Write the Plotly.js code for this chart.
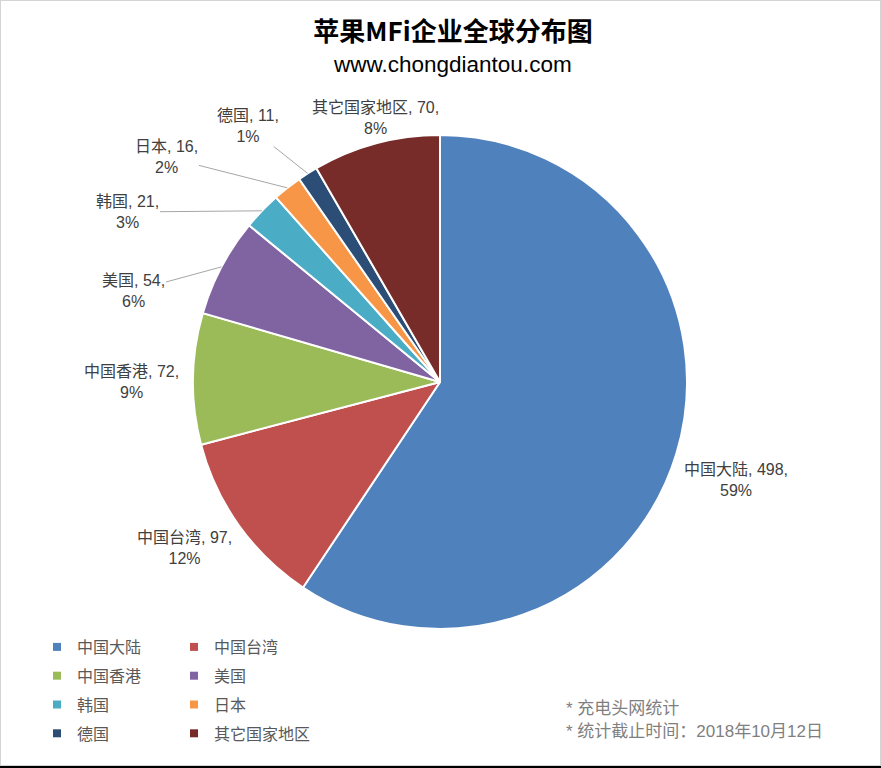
<!DOCTYPE html>
<html>
<head>
<meta charset="utf-8">
<script src="https://cdn.plot.ly/plotly-3.0.1.min.js"></script>
<style>
  html, body { margin: 0; padding: 0; background: #000; }
  #wrap { position: absolute; left: 0; top: 0; width: 879px; height: 764px; border: 1px solid #d4d4d4; background: #fff; }
  #chart { width: 879px; height: 764px; }
</style>
</head>
<body>
<div id="wrap"><div id="chart"></div></div>
<script>
// ---- data ----
const categories = ['中国大陆', '中国台湾', '中国香港', '美国', '韩国', '日本', '德国', '其它国家地区'];
const counts = [498, 97, 72, 54, 21, 16, 11, 70];
const colors = ['#4F81BD', '#C0504D', '#9BBB59', '#8064A2', '#4BACC6', '#F79646', '#2C4D75', '#772C2A'];
const titleText = '苹果MFi企业全球分布图';
const subtitleText = 'www.chongdiantou.com';
const notes = ['* 充电头网统计', '* 统计截止时间：2018年10月12日'];

// ---- layout geometry (pixels inside the plot) ----
const W = 879, H = 764;
const pieCx = 439, pieCy = 381, pieR = 247;
// data-label centres (layout positions, px) and whether a leader line is drawn
const labelPos = [[735, 479], [183, 547], [130, 381], [132, 290], [126, 211], [165, 156], [247, 125], [374, 117]];
const leader = [false, false, false, true, true, true, true, false];

const fontFam = 'Liberation Sans, Arial, "Noto Sans CJK SC", sans-serif';
const px2x = function (p) { return p / W; };
const px2y = function (p) { return 1 - p / H; };

const traces = [{
  type: 'pie',
  labels: categories,
  values: counts,
  sort: false,
  direction: 'clockwise',
  rotation: 0,
  marker: { colors: colors, line: { color: '#ffffff', width: 2 } },
  textinfo: 'none',
  showlegend: false,
  hoverinfo: 'label+value+percent',
  domain: { x: [px2x(pieCx - pieR), px2x(pieCx + pieR)], y: [px2y(pieCy + pieR), px2y(pieCy - pieR)] }
}];

// legend entries: two columns (col 1 = even index, col 2 = odd index)
categories.forEach(function (c, i) {
  traces.push({
    type: 'scatter',
    mode: 'markers',
    x: [null], y: [null],
    name: c,
    legend: (i % 2 === 0) ? 'legend' : 'legend2',
    legendgroup: 'g' + i,
    marker: { symbol: 'square', size: 8, color: colors[i] },
    hoverinfo: 'skip'
  });
});

const legendBase = {
  orientation: 'v',
  yanchor: 'top',
  xanchor: 'left',
  font: { family: fontFam, size: 16, color: '#595959' },
  bgcolor: 'rgba(0,0,0,0)',
  borderwidth: 0,
  tracegroupgap: 5,
  indentation: -8,
  itemclick: false
};

// data labels computed from the values
const total = counts.reduce(function (a, b) { return a + b; }, 0);
const labelAnns = [];
let cum = 0;
counts.forEach(function (v, i) {
  const mid = (cum + v / 2) / total * 2 * Math.PI; // clockwise from 12 o'clock
  cum += v;
  const pct = Math.round(v / total * 100);
  const txt = categories[i] + ', ' + v + ',<br>' + pct + '%';
  const ex = pieCx + pieR * Math.sin(mid);
  const ey = pieCy - pieR * Math.cos(mid);
  const base = {
    text: txt, align: 'center', xref: 'paper', yref: 'paper',
    font: { family: fontFam, size: 16, color: '#404040' }
  };
  if (leader[i]) {
    labelAnns.push(Object.assign(base, {
      x: px2x(ex), y: px2y(ey),
      showarrow: true, arrowhead: 0, arrowwidth: 1, arrowcolor: '#a6a6a6',
      ax: labelPos[i][0] - ex, ay: labelPos[i][1] - ey, standoff: 0
    }));
  } else {
    labelAnns.push(Object.assign(base, {
      x: px2x(labelPos[i][0]), y: px2y(labelPos[i][1]),
      xanchor: 'center', yanchor: 'middle', showarrow: false
    }));
  }
});

const layout = {
  width: W, height: H,
  margin: { l: 0, r: 0, t: 0, b: 0 },
  paper_bgcolor: '#ffffff',
  plot_bgcolor: '#ffffff',
  title: {
    text: titleText,
    font: { family: '"Noto Sans CJK SC", sans-serif', size: 26, color: '#000000', weight: 'bold' },
    x: px2x(452), xanchor: 'center',
    y: 1 - 31 / H, yanchor: 'middle', yref: 'container'
  },
  xaxis: { visible: false },
  yaxis: { visible: false },
  legend: Object.assign({}, legendBase, { x: px2x(44), y: px2y(629) }),
  legend2: Object.assign({}, legendBase, { x: px2x(181), y: px2y(629) }),
  annotations: [
    {
      text: subtitleText, showarrow: false, xref: 'paper', yref: 'paper',
      x: px2x(452), xanchor: 'center', y: px2y(64), yanchor: 'middle',
      font: { family: fontFam, size: 22.5, color: '#000000' }
    },
    {
      text: notes[0], showarrow: false, xref: 'paper', yref: 'paper',
      x: px2x(563), xanchor: 'left', y: px2y(707), yanchor: 'middle',
      font: { family: fontFam, size: 17, color: '#7f7f7f' }
    },
    {
      text: notes[1], showarrow: false, xref: 'paper', yref: 'paper',
      x: px2x(563), xanchor: 'left', y: px2y(730), yanchor: 'middle',
      font: { family: fontFam, size: 17, color: '#7f7f7f' }
    }
  ].concat(labelAnns)
};

Plotly.newPlot('chart', traces, layout, { displayModeBar: false });
</script>
</body>
</html>
